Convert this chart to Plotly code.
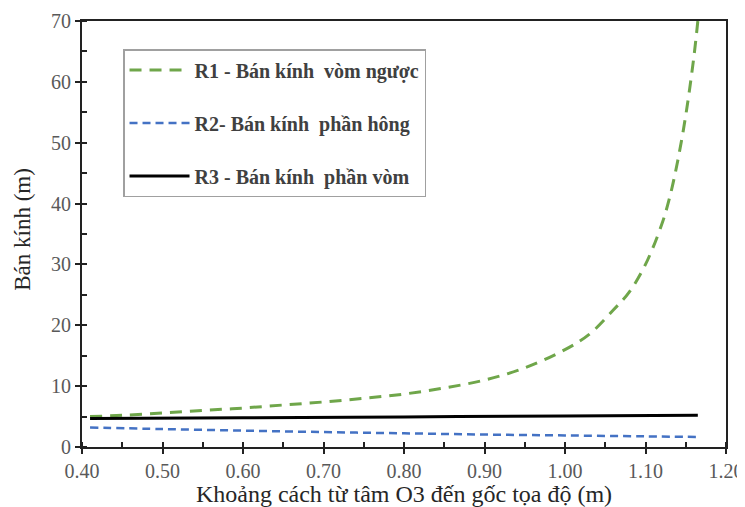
import plotly.graph_objects as go

# R1 - green dashed curve
x_r1 = [0.41, 0.45, 0.50, 0.55, 0.60, 0.65, 0.70, 0.75, 0.80, 0.85, 0.90, 0.95,
        1.00, 1.03, 1.06, 1.08, 1.10, 1.12, 1.13, 1.14, 1.15, 1.16, 1.165]
y_r1 = [5.0, 5.2, 5.6, 6.0, 6.4, 6.9, 7.4, 8.0, 8.7, 9.7, 11.0, 13.0,
        16.0, 18.5, 22.5, 25.5, 30.0, 36.5, 41.0, 47.0, 54.5, 64.0, 70.0]

# R2 - blue dashed line
x_r2 = [0.41, 0.50, 0.60, 0.70, 0.80, 0.90, 1.00, 1.10, 1.165]
y_r2 = [3.2, 2.95, 2.7, 2.45, 2.25, 2.05, 1.9, 1.75, 1.65]

# R3 - black solid line
x_r3 = [0.41, 0.60, 0.80, 1.00, 1.165]
y_r3 = [4.7, 4.8, 4.95, 5.1, 5.2]

names = ["R1 - Bán kính  vòm ngược", "R2- Bán kính  phần hông", "R3 - Bán kính  phần vòm"]

x_ticks = [0.40, 0.50, 0.60, 0.70, 0.80, 0.90, 1.00, 1.10, 1.20]
y_ticks = [0, 10, 20, 30, 40, 50, 60, 70]

x_title = "Khoảng cách từ tâm O3 đến gốc tọa độ (m)"
y_title = "Bán kính (m)"

SERIF = "Liberation Serif, Times New Roman, serif"

fig = go.Figure()
fig.add_trace(go.Scatter(x=x_r1, y=y_r1, mode="lines", name=names[0], legendgroup="a",
                         line=dict(color="#6FA64A", width=3, dash="12px,8px", shape="spline")))
fig.add_trace(go.Scatter(x=x_r2, y=y_r2, mode="lines", name=names[1], legendgroup="b",
                         line=dict(color="#4472C4", width=2.5, dash="8px,5px", shape="spline")))
fig.add_trace(go.Scatter(x=x_r3, y=y_r3, mode="lines", name=names[2], legendgroup="c",
                         line=dict(color="#000000", width=3, shape="spline")))
# dummy trace for overlay axes (inside half of crossing ticks)
fig.add_trace(go.Scatter(x=[None], y=[None], xaxis="x2", yaxis="y2", showlegend=False,
                         hoverinfo="skip"))

# page body adds an 8px margin; figure spans from there to the window edge
fig.update_layout(
    width=737, height=499,
    margin=dict(l=74, r=19, t=13, b=60),
    paper_bgcolor="white", plot_bgcolor="white",
    font=dict(family=SERIF, color="#404040"),
    showlegend=True,
    legend=dict(x=0.0637, y=0.934, xanchor="left", yanchor="top",
                bordercolor="#A0A0A0", borderwidth=1.5, bgcolor="white",
                font=dict(family=SERIF, size=20, color="#404040", weight="bold"),
                tracegroupgap=24, itemwidth=60),
    xaxis=dict(range=[0.40, 1.20], tickvals=x_ticks, tickformat=".2f",
               showgrid=False, zeroline=False, automargin=False,
               ticklabeloverflow="allow",
               showline=True, linecolor="#222", linewidth=2, mirror=True,
               ticks="outside", ticklen=5, tickwidth=2, tickcolor="#222",
               minor=dict(dtick=0.05, ticks="inside", ticklen=5, tickwidth=1.5, tickcolor="#222"),
               tickfont=dict(size=20, color="#595959"),
               title=dict(text=x_title, font=dict(size=24, color="#262626"), standoff=7)),
    yaxis=dict(range=[0, 70], tickvals=y_ticks,
               showgrid=False, zeroline=False, automargin=False,
               showline=True, linecolor="#222", linewidth=2, mirror=True,
               ticks="outside", ticklen=5, tickwidth=2, tickcolor="#222",
               minor=dict(dtick=5, ticks="inside", ticklen=5, tickwidth=1.5, tickcolor="#222"),
               tickfont=dict(size=20, color="#595959")),
    xaxis2=dict(range=[0.40, 1.20], overlaying="x", tickvals=x_ticks, showticklabels=False,
                ticks="inside", ticklen=5, tickwidth=2, tickcolor="#222",
                showgrid=False, zeroline=False, showline=False),
    yaxis2=dict(range=[0, 70], overlaying="y", tickvals=y_ticks, showticklabels=False,
                ticks="inside", ticklen=5, tickwidth=2, tickcolor="#222",
                showgrid=False, zeroline=False, showline=False),
    annotations=[dict(text=y_title, xref="paper", yref="paper", x=-0.0916, y=0.51,
                      xanchor="center", yanchor="middle", textangle=-90, showarrow=False,
                      font=dict(family=SERIF, size=23, color="#262626"))],
)

fig.write_html("out.html")
